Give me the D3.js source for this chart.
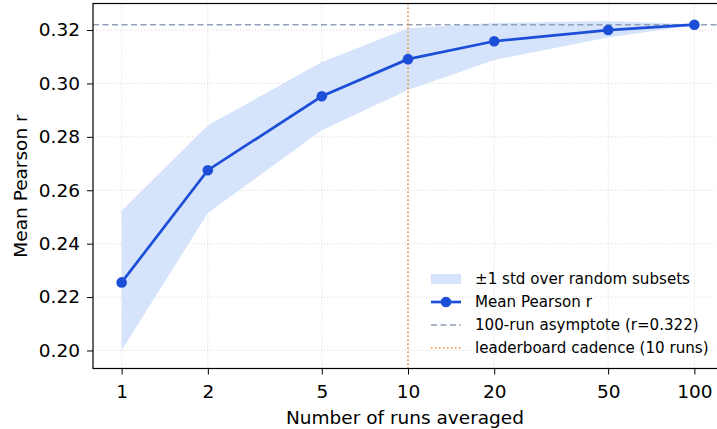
<!DOCTYPE html>
<html><head><meta charset="utf-8">
<script src="https://cdn.jsdelivr.net/npm/d3@7"></script>
<style>body{margin:0;background:#fff}svg{display:block;font-family:"DejaVu Sans",sans-serif}</style>
</head><body><svg id="c" width="717" height="429"></svg>
<script>
const runs = [1, 2, 5, 10, 20, 50, 100];
const meanR = [0.2255, 0.2675, 0.2952, 0.3091, 0.3158, 0.3200, 0.3220];
const upperR = [0.2523, 0.2843, 0.3080, 0.3207, 0.3226, 0.3234, 0.3222];
const lowerR = [0.2000, 0.2515, 0.2825, 0.2975, 0.3088, 0.3172, 0.3218];
const yTicks = [0.20, 0.22, 0.24, 0.26, 0.28, 0.30, 0.32];
const xTicks = [1, 2, 5, 10, 20, 50, 100];
const asymptote = 0.322;
const cadence = 10;
const legendLabels = ["±1 std over random subsets", "Mean Pearson r", "100-run asymptote (r=0.322)", "leaderboard cadence (10 runs)"];

const svg = d3.select("#c");
const L = 93, R = 723, T = 3.5, B = 368.5;
const x = d3.scaleLog().domain([Math.pow(10, -0.1), Math.pow(10, 2.1)]).range([L, R]);
const y = d3.scaleLinear().domain([0.19325, 0.32994]).range([B, T]);

// grid
const g = svg.append("g");
g.selectAll(".gx").data(xTicks).join("line")
  .attr("x1", d => x(d)).attr("x2", d => x(d)).attr("y1", T).attr("y2", B)
  .attr("stroke", "#cfcfcf").attr("stroke-width", 0.8).attr("stroke-dasharray", "1,2");
g.selectAll(".gy").data(yTicks).join("line")
  .attr("x1", L).attr("x2", R).attr("y1", d => y(d)).attr("y2", d => y(d))
  .attr("stroke", "#cfcfcf").attr("stroke-width", 0.8).attr("stroke-dasharray", "1,2");

const bandColor = "rgb(214,228,251)";
const lineColor = "#1d4ed8";
const asymColor = "#8fa0b8";
const cadColor = "#f5862a";

// band
const pts = runs.map((r, i) => ({r, m: meanR[i], u: upperR[i], l: lowerR[i]}));
svg.append("path").datum(pts)
  .attr("d", d3.area().x(d => x(d.r)).y0(d => y(d.l)).y1(d => y(d.u)))
  .attr("fill", bandColor);

// asymptote
svg.append("line").attr("x1", L).attr("x2", R).attr("y1", y(asymptote)).attr("y2", y(asymptote))
  .attr("stroke", asymColor).attr("stroke-width", 1.6).attr("stroke-dasharray", "6,3.5");
// cadence
svg.append("line").attr("x1", x(cadence)).attr("x2", x(cadence)).attr("y1", T).attr("y2", B)
  .attr("stroke", cadColor).attr("stroke-width", 1.5).attr("stroke-dasharray", "1.5,2.5");

// mean line
svg.append("path").datum(pts)
  .attr("d", d3.line().x(d => x(d.r)).y(d => y(d.m)))
  .attr("fill", "none").attr("stroke", lineColor).attr("stroke-width", 2.7);
svg.selectAll(".pt").data(pts).join("circle")
  .attr("cx", d => x(d.r)).attr("cy", d => y(d.m)).attr("r", 5.3).attr("fill", lineColor);

// axes
const xAxis = d3.axisBottom(x).tickValues(xTicks).tickFormat(d3.format("d")).tickSize(6).tickPadding(10);
const yAxis = d3.axisLeft(y).tickValues(yTicks).tickFormat(d3.format(".2f")).tickSize(6).tickPadding(7);
const ax = svg.append("g").attr("transform", `translate(0,${B})`).call(xAxis);
const ay = svg.append("g").attr("transform", `translate(${L},0)`).call(yAxis);
[ax, ay].forEach(a => {
  a.select(".domain").remove();
  a.selectAll("line").attr("stroke", "#000").attr("stroke-width", 1);
  a.selectAll("text").attr("font-size", 18.5).attr("font-family", "DejaVu Sans").attr("fill", "#000");
});
// frame
svg.append("rect").attr("x", L).attr("y", T).attr("width", R - L).attr("height", B - T)
  .attr("fill", "none").attr("stroke", "#000").attr("stroke-width", 1.2);

// labels
svg.append("text").attr("x", (L + R) / 2 - 3).attr("y", 424).attr("text-anchor", "middle")
  .attr("font-size", 18.5).text("Number of runs averaged");
svg.append("text").attr("transform", `translate(27,${(T + B) / 2}) rotate(-90)`).attr("text-anchor", "middle")
  .attr("font-size", 18.5).text("Mean Pearson r");

// legend
const lx = 431, ly0 = 279, dy = 23;
const lg = svg.append("g").attr("font-size", 15.1);
lg.append("rect").attr("x", lx).attr("y", ly0 - 5).attr("width", 30).attr("height", 10).attr("fill", bandColor);
lg.append("line").attr("x1", lx).attr("x2", lx + 30).attr("y1", ly0 + dy).attr("y2", ly0 + dy).attr("stroke", lineColor).attr("stroke-width", 2.7);
lg.append("circle").attr("cx", lx + 15).attr("cy", ly0 + dy).attr("r", 5.3).attr("fill", lineColor);
lg.append("line").attr("x1", lx).attr("x2", lx + 30).attr("y1", ly0 + 2 * dy).attr("y2", ly0 + 2 * dy).attr("stroke", asymColor).attr("stroke-width", 1.6).attr("stroke-dasharray", "6,3.5");
lg.append("line").attr("x1", lx).attr("x2", lx + 30).attr("y1", ly0 + 3 * dy).attr("y2", ly0 + 3 * dy).attr("stroke", cadColor).attr("stroke-width", 1.5).attr("stroke-dasharray", "1.5,2.5");
legendLabels.forEach((t, i) => {
  lg.append("text").attr("x", 475).attr("y", ly0 + i * dy).attr("dy", "0.35em").text(t);
});
</script></body></html>
